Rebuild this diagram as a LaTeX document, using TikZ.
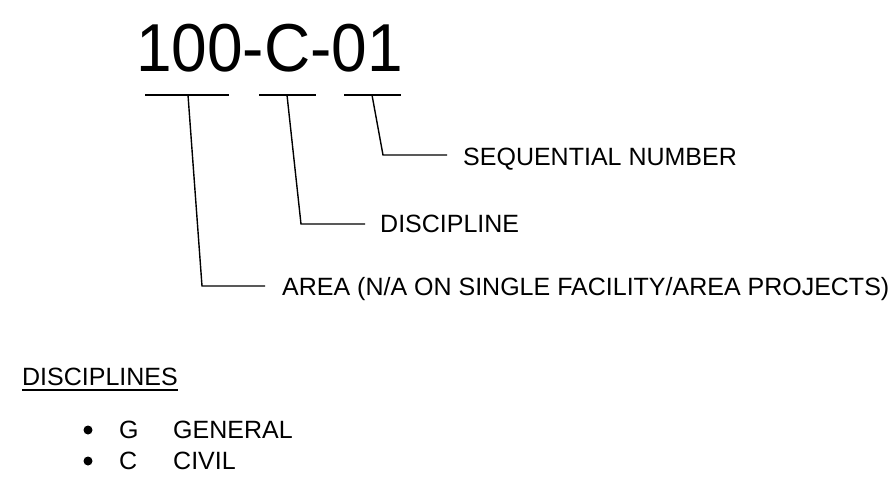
\documentclass[tikz,border=0pt]{standalone}
\usepackage{fontspec}
\setmainfont{Liberation Sans}
\begin{document}
\begin{tikzpicture}[x=1pt,y=-1pt,
  lbl/.style={inner sep=0pt,anchor=base west,font=\fontsize{25}{30}\selectfont},
  ttl/.style={inner sep=0pt,anchor=base,font=\fontsize{64}{76}\selectfont},
  ln/.style={line width=1.4pt,line join=miter},
  dot/.style={circle,fill=black,inner sep=0pt,minimum size=9pt}]
\useasboundingbox (0,0) rectangle (891,479);
% title
\node[ttl,yscale=1.06] (title) at (269.5,71) {100-C-01};
% underline segments
\coordinate (u1a) at (145,95); \coordinate (u1b) at (229,95);
\coordinate (u2a) at (259,95); \coordinate (u2b) at (316,95);
\coordinate (u3a) at (344,95); \coordinate (u3b) at (401,95);
\draw[ln] (u1a) -- (u1b);
\draw[ln] (u2a) -- (u2b);
\draw[ln] (u3a) -- (u3b);
% leader points
\coordinate (s1) at (188,95); \coordinate (k1) at (202,286); \coordinate (e1) at (265,286);
\coordinate (s2) at (287,95); \coordinate (k2) at (301,224); \coordinate (e2) at (365,224);
\coordinate (s3) at (372,95); \coordinate (k3) at (383,155); \coordinate (e3) at (447,155);
\draw[ln] (s1) -- (k1) -- (e1);
\draw[ln] (s2) -- (k2) -- (e2);
\draw[ln] (s3) -- (k3) -- (e3);
% labels
\node[lbl] (seq) at (463,165) {SEQUENTIAL NUMBER};
\node[lbl] (disc) at (380,232) {DISCIPLINE};
\node[lbl] (area) at (282,295) {AREA (N/A ON SINGLE FACILITY/AREA PROJECTS)};
% disciplines list
\node[lbl] (head) at (22,385) {DISCIPLINES};
\draw[line width=1.3pt] ([yshift=-5pt]head.base west) -- ([yshift=-5pt]head.base east);
\node[dot] (b1) at (88,430) {};
\node[lbl] (g) at (119,438) {G};
\node[lbl] (gen) at (173,438) {GENERAL};
\node[dot] (b2) at (88,461) {};
\node[lbl] (c) at (119,469) {C};
\node[lbl] (civ) at (173,469) {CIVIL};
\end{tikzpicture}
\end{document}
